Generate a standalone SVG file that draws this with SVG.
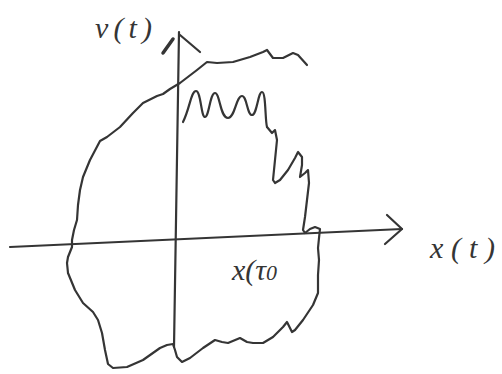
<svg xmlns="http://www.w3.org/2000/svg" width="502" height="374" viewBox="0 0 502 374">
<style>
.ink{fill:none;stroke:#353535;stroke-width:2.2;stroke-linecap:round;stroke-linejoin:round}
.lbl{font-family:"Liberation Serif","DejaVu Serif",serif;font-style:italic;font-size:30px;fill:#353535}
</style>
<rect width="502" height="374" fill="#ffffff"/>
<g id="axes">
<path class="ink" d="M10,247 L402,229"/>
<path class="ink" d="M387,215 L402,229 L385,244"/>
<path class="ink" d="M179,32 L174,347"/>
<path class="ink" d="M180,35 L200,52"/>
<path class="ink" style="stroke-width:3.5" d="M163,53 L173,39"/>
</g>
<g id="trajectory">
<path class="ink" d="M307,65 L298,55 L293,53 L283,58 L273,58 L267,50 L263,52 L250,57 L233,62 L217,63 L207,62 L197,70 L180,83 L170,89 L163,94 L157,96 L143,103 L133,113 L120,127 L107,137 L100,141 L90,160 L83,177 L80,190 L78,205 L77,220 L74,230 L72,240 L72,247 L68,257 L67,263 L68,273 L75,290 L83,303 L93,312 L98,320 L102,333 L105,350 L108,364 L113,368 L127,367 L143,360 L160,348 L167,345 L173,344 L175,350 L177,357 L182,362 L190,358 L203,348 L215,340 L222,342 L228,343 L240,338 L247,342 L253,343 L263,343 L273,337 L283,327 L287,322 L292,332 L295,330 L303,320 L313,305 L318,293 L318,275 L319,260 L318,248 L319,238 L320,229 L315,227 L310,229 L305,233 L303,230 L305,217 L307,200 L309,183 L308,170 L305,173 L300,177 L302,165 L302,157 L298,152 L295,158 L288,170 L280,180 L275,183 L273,180 L275,160 L277,140 L275,130 L272,133 L267,127"/>
<path class="ink" d="M267,127 C265,120 266,92 262,92 C258,92 257,115 252,115 C247,115 247,96 242,96 C236,96 235,118 228,118 C220,118 220,93 215,93 C210,93 209,117 205,117 C201,117 201,91 196,91 C191,91 190,108 183,122"/>
</g>
<g id="labels">
<text class="lbl" x="95" y="38" textLength="57" lengthAdjust="spacing">v(t)</text>
<text class="lbl" x="430" y="258" textLength="65" lengthAdjust="spacing">x(t)</text>
<text class="lbl" x="232" y="280" font-size="32">x(τ<tspan font-size="22">0</tspan></text>
</g>
</svg>
